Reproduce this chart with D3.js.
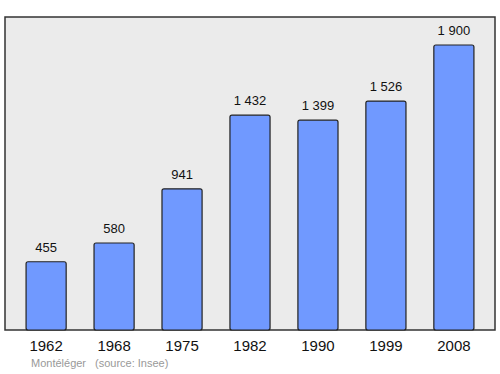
<!DOCTYPE html>
<html>
<head>
<meta charset="utf-8">
<script src="https://cdn.jsdelivr.net/npm/d3@7"></script>
<style>
  body { margin: 0; background: #fff; }
  text { font-family: "Liberation Sans", Arial, sans-serif; }
</style>
</head>
<body>
<svg id="chart" width="500" height="374"></svg>
<script>
const years = ['1962', '1968', '1975', '1982', '1990', '1999', '2008'];
const population = [455, 580, 941, 1432, 1399, 1526, 1900];
const valueLabels = ['455', '580', '941', '1 432', '1 399', '1 526', '1 900'];

const panel = {left: 5, top: 17, right: 495, bottom: 330};

let svg = d3.select("#chart");

svg.append("rect")
    .attr("x", panel.left)
    .attr("y", panel.top)
    .attr("width", panel.right - panel.left)
    .attr("height", panel.bottom - panel.top)
    .attr("fill", "#ebebeb")
    .attr("stroke", "#333")
    .attr("stroke-width", 1.5);

let x = d3.scaleBand()
    .domain(years)
    .range([panel.left, panel.right])
    .paddingInner(0.41)
    .paddingOuter(0.31);

let y = d3.scaleLinear()
    .domain([0, 1900])
    .range([panel.bottom, 45]);

let data = years.map((yr, i) => ({year: yr, value: population[i], label: valueLabels[i]}));

svg.append("g")
    .selectAll("rect")
    .data(data)
    .join("rect")
    .attr("x", d => x(d.year))
    .attr("y", d => y(d.value))
    .attr("width", x.bandwidth())
    .attr("height", d => y(0) - y(d.value))
    .attr("rx", 2)
    .attr("fill", "#7099ff")
    .attr("stroke", "#222")
    .attr("stroke-width", 1.2);

svg.append("g")
    .selectAll("text")
    .data(data)
    .join("text")
    .attr("x", d => x(d.year) + x.bandwidth() / 2)
    .attr("y", d => y(d.value) - 10)
    .attr("text-anchor", "middle")
    .attr("font-size", 13)
    .attr("fill", "#111")
    .text(d => d.label);

// bottom year labels via axis
svg.append("g")
    .attr("transform", `translate(0,${panel.bottom})`)
    .call(d3.axisBottom(x).tickSize(0).tickPadding(10))
    .call(g => g.select(".domain").remove())
    .selectAll("text")
    .attr("font-size", 15)
    .attr("font-family", "Liberation Sans, Arial, sans-serif")
    .attr("fill", "#111");

svg.append("text")
    .attr("x", 31)
    .attr("y", 367)
    .attr("font-size", 11)
    .attr("fill", "#999")
    .text("Montéléger");

svg.append("text")
    .attr("x", 95)
    .attr("y", 367)
    .attr("font-size", 11)
    .attr("fill", "#999")
    .text("(source: Insee)");
</script>
</body>
</html>
